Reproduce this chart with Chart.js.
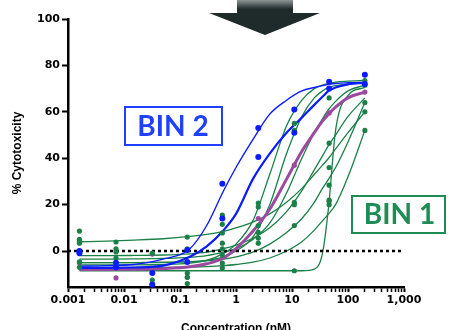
<!DOCTYPE html>
<html><head><meta charset="utf-8">
<script src="https://cdn.jsdelivr.net/npm/chart.js@4/dist/chart.umd.min.js"></script>
<style>html,body{margin:0;padding:0;background:#fff;}#wrap{width:454px;height:330px;}</style>
</head><body><div id="wrap"><canvas id="c" width="454" height="330"></canvas></div>
<script>
// measured concentrations (nM) of the data points
const concentrations = [0.0016, 0.0072, 0.032, 0.135, 0.57, 2.5, 11, 46, 200];
// points
const greenPoints = [
  [8.6, 5, 4, 3.4, 0, -4.7, -7],
  [3.9, 0.9, -0.4, -3, -6],
  [-0.9, -12.5, -14],
  [6, 0.9, -9.5, -11.3, -14],
  [15.5, 11.5, 7.8, 3.4, 0.9, -1.7, -5.2, -7.3],
  [20.7, 19, 11, 8, 5.6, 3.4],
  [55, 52, 21, 20, 11, -8.5],
  [66, 46.5, 36, 28.4, 22, 20, 21.5],
  [73.5, 71.5, 64, 60, 52]
];
const blueAPoints = [0, -5, -9.5, 0.4, 29, 53, 61, 73, 76];
const blueBPoints = [-1, -7, -14.5, -4.7, 14, 40.5, 51, 70, 72];
const purplePoints = [-5, -11.6, -1.3, -11.3, null, 14, 37, 59.5, 68.5];

// fitted curves at these concentrations
const curveConc = [0.0016, 0.005, 0.015, 0.05, 0.15, 0.3, 0.6, 1, 2, 4, 8, 15, 25, 35, 45, 60, 100, 200];
const blueACurve  = [-6.5, -6.3, -5.8, -3.5, 1, 11, 26, 36, 48, 59, 65, 69, 70.5, 71.3, 71.8, 72.2, 72.5, 72.7];
const blueBCurve  = [-7.3, -7.3, -7.1, -6.3, -2.5, 2, 9, 16, 31, 42, 51, 57.5, 63, 66.5, 69, 70.5, 71.8, 72.5];
const purpleCurve = [-8, -8, -7.9, -7.6, -6.8, -5.5, -3, 1, 8.5, 18, 31, 43, 51, 56, 59, 62, 66, 68.5];
const greenCurves = [
  [-8.5, -8.5, -8.5, -8.5, -8.5, -8.5, -8.5, -8.5, -8.5, -8.5, -8.5, -8.5, -7.8, -1, 19, 52, 67, 70.5],
  [4, 4.3, 4.7, 5.3, 6.3, 7.2, 8.5, 10, 12.5, 16, 21, 27, 33, 37, 40, 44, 51, 60],
  [-6, -6, -6, -5.8, -5.2, -4, -1, 3, 13, 33, 54, 65, 70, 71.5, 72.2, 72.8, 73.2, 73.5],
  [-5, -5, -5, -4.9, -4.6, -4, -2.5, 0, 6, 20, 42, 58, 66, 69, 70.5, 71.3, 72, 72.5],
  [-3.5, -3.5, -3.4, -3.2, -2.7, -2, -0.5, 1, 5, 12, 25, 40, 51, 57, 61, 64.5, 69, 71.5],
  [-2, -2, -1.9, -1.7, -1.2, -0.5, 1, 2.5, 5.5, 10, 17, 26, 35, 41, 45.5, 50, 58, 66],
  [-5, -5, -5, -4.9, -4.6, -4.2, -3.5, -2.5, -0.5, 3, 8, 14, 21, 27, 31, 36, 47, 64],
  [-7, -7, -7, -7, -6.9, -6.7, -6.3, -5.8, -4.8, -3, 0, 4, 9, 13, 16, 20, 32, 52]
];

const xMajorTicks = [0.001, 0.01, 0.1, 1, 10, 100, 1000];
const xTickLabels = ['0.001', '0.01', '0.1', '1', '10', '100', '1,000'];
const yTicks = [0, 20, 40, 60, 80, 100];

const GREEN = '#1b8048', BLUE = '#0a1cff', PURPLE = '#9b4aa0';

const toXY = (xs, ys) => xs.map((x, i) => ({x, y: ys[i]})).filter(p => p.y !== null);
const curveDs = (vals, color, w, order) => ({
  data: toXY(curveConc, vals), showLine: true, borderColor: color, borderWidth: w,
  pointRadius: 0, cubicInterpolationMode: 'monotone', order
});
const pointDs = (data, color, r, order) => ({
  data, showLine: false, backgroundColor: color, borderColor: color, pointRadius: r,
  pointBorderWidth: 0, order, clip: false
});

// x ticks: decades + minor 2..9
const xTickVals = [], xTickLab = [];
for (let d = 0; d < xMajorTicks.length; d++) {
  xTickVals.push(xMajorTicks[d]); xTickLab.push(xTickLabels[d]);
  if (d < xMajorTicks.length - 1) for (let k = 2; k <= 9; k++) { xTickVals.push(k * xMajorTicks[d]); xTickLab.push(''); }
}

const datasets = [];
greenCurves.forEach(c => datasets.push(curveDs(c, GREEN, 1.3, 6)));
datasets.push({data: [{x: 0.001, y: 0}, {x: 1000, y: 0}], showLine: true, borderColor: '#000',
  borderWidth: 2.5, borderDash: [3, 3], pointRadius: 0, order: 5});
datasets.push(curveDs(purpleCurve, PURPLE, 3, 4));
datasets.push(curveDs(blueACurve, BLUE, 1.4, 3));
datasets.push(curveDs(blueBCurve, BLUE, 2.2, 3));
datasets.push(pointDs(concentrations.flatMap((c, i) => greenPoints[i].map(v => ({x: c, y: v}))), GREEN, 2.6, 2));
datasets.push(pointDs(toXY(concentrations, purplePoints), PURPLE, 2.6, 2));
datasets.push(pointDs(toXY(concentrations, blueAPoints), BLUE, 3, 1));
datasets.push(pointDs(toXY(concentrations, blueBPoints), BLUE, 3, 1));

const decor = {
  id: 'decor',
  afterDraw(chart) {
    const ctx = chart.ctx;
    ctx.save();
    // arrow
    const g = ctx.createLinearGradient(0, 0, 0, 13);
    g.addColorStop(0, '#8f9696'); g.addColorStop(0.7, '#1f2a2a'); g.addColorStop(1, '#1f2a2a');
    ctx.fillStyle = g; ctx.fillRect(237, 0, 56, 14);
    ctx.fillStyle = '#1f2a2a';
    ctx.beginPath(); ctx.moveTo(209, 13); ctx.lineTo(320, 13); ctx.lineTo(265, 35); ctx.closePath(); ctx.fill();
    // BIN labels
    ctx.lineWidth = 2;
    ctx.strokeStyle = '#1f40ff'; ctx.strokeRect(125, 107, 97, 38);
    ctx.fillStyle = '#1f40ff'; ctx.font = 'bold 28px Lato'; ctx.textAlign = 'center'; ctx.textBaseline = 'middle';
    ctx.fillText('BIN 2', 173, 127);
    ctx.strokeStyle = '#1e8c55'; ctx.strokeRect(352, 196, 93, 37);
    ctx.fillStyle = '#1e8c55'; ctx.fillText('BIN 1', 399.5, 215);
    ctx.restore();
  }
};

new Chart(document.getElementById('c'), {
  type: 'scatter',
  data: {datasets},
  options: {
    responsive: false, animation: false, devicePixelRatio: 1,
    layout: {padding: {top: 19, right: 50, left: 0, bottom: 0}},
    plugins: {legend: {display: false}, tooltip: {enabled: false}},
    scales: {
      x: {
        type: 'logarithmic', min: 0.001, max: 1000,
        afterBuildTicks: s => { s.ticks = xTickVals.map((v, i) => ({value: v, major: xTickLab[i] !== ''})); },
        afterFit: s => { s.height = 43; },
        ticks: {autoSkip: false, maxRotation: 0, color: '#000', padding: 2,
          font: {family: 'DejaVu Sans', weight: 'bold', size: 11},
          callback: (v, i) => xTickLab[i]},
        grid: {drawOnChartArea: false, color: '#000', tickLength: 5,
          tickWidth: c => (xTickLab[c.index] ? 2 : 1.5)},
        border: {color: '#000', width: 2.5},
        title: {display: true, text: 'Concentration (nM)', color: '#000',
          font: {family: 'Liberation Sans', weight: 'bold', size: 12}, padding: {top: 0, bottom: -6}}
      },
      y: {
        min: -15.5, max: 100,
        afterBuildTicks: s => { s.ticks = yTicks.map(v => ({value: v})); },
        afterFit: s => { s.width = 68; },
        ticks: {color: '#000', padding: 2, font: {family: 'DejaVu Sans', weight: 'bold', size: 11}},
        grid: {drawOnChartArea: false, color: '#000', tickLength: 6, tickWidth: 2},
        border: {color: '#000', width: 2.5},
        title: {display: true, text: '% Cytotoxicity', color: '#000',
          font: {family: 'Liberation Sans', weight: 'bold', size: 12}, padding: {top: 10, bottom: 0}}
      }
    }
  },
  plugins: [decor]
});
</script></body></html>
